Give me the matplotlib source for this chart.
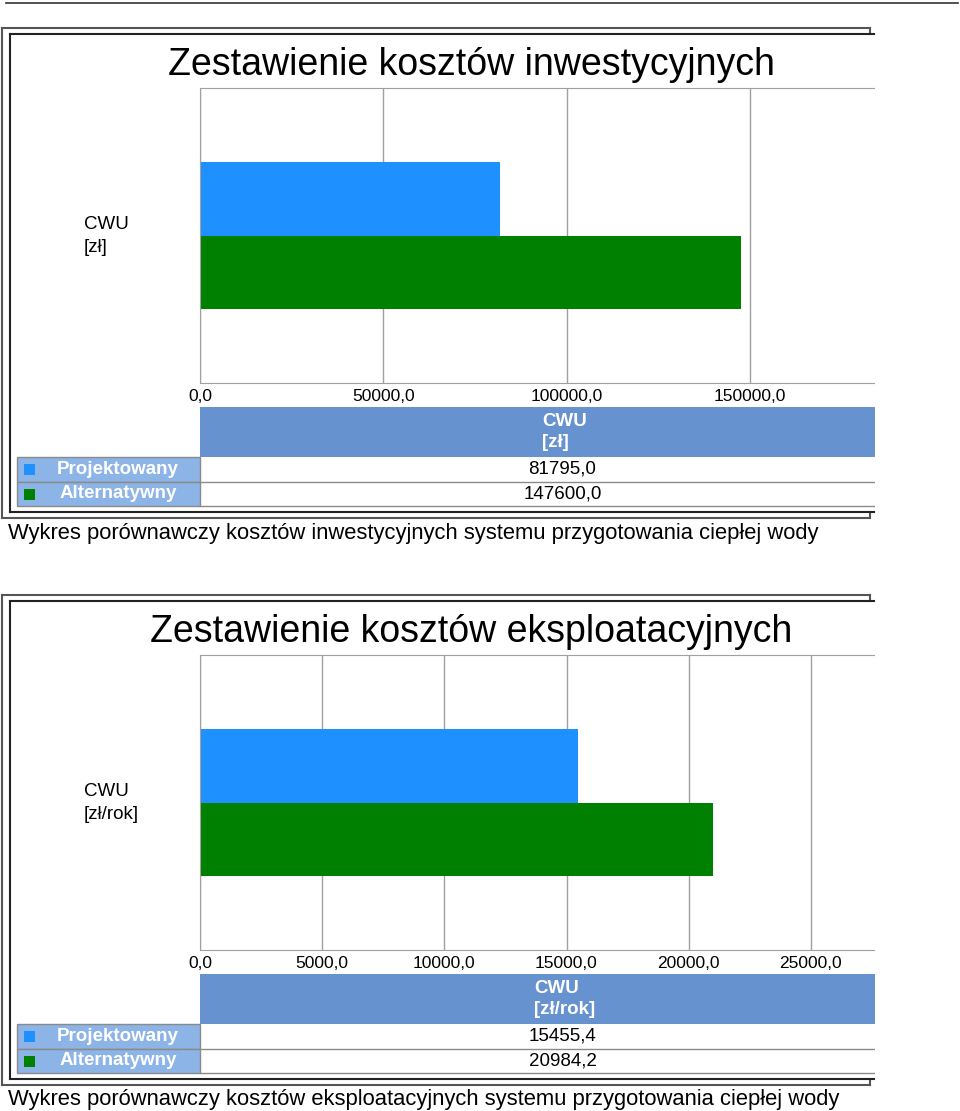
import matplotlib
matplotlib.use("Agg")
import matplotlib.pyplot as plt
from matplotlib.patches import Rectangle

plt.rcParams['font.family'] = ['Liberation Sans', 'DejaVu Sans']

# Data
series = ["Projektowany", "Alternatywny"]
series_colors = ["#1e90ff", "#008000"]
titles = ["Zestawienie kosztów inwestycyjnych", "Zestawienie kosztów eksploatacyjnych"]
categories = ["CWU\n[zł]", "CWU\n[zł/rok]"]
captions = ["Wykres porównawczy kosztów inwestycyjnych systemu przygotowania ciepłej wody",
            "Wykres porównawczy kosztów eksploatacyjnych systemu przygotowania ciepłej wody"]
inv_values = [81795.0, 147600.0]
exp_values = [15455.4, 20984.2]
# visible ticks; the axes run on to inv_max / exp_max, past the cropped edge
inv_ticks = [0, 50000, 100000, 150000]
exp_ticks = [0, 5000, 10000, 15000, 20000, 25000]
inv_max = 200000
exp_max = 30000

panel_values = [inv_values, exp_values]
panel_ticks = [inv_ticks, exp_ticks]
panel_max = [inv_max, exp_max]

header_color = "#6692d0"
label_color = "#8db4e6"
grid_color = "#a0a0a0"

W, H = 960, 1111


def fmt(v):
    return ("%.1f" % v).replace(".", ",")


fig = plt.figure(figsize=(W / 100, H / 100), dpi=100)
ov = fig.add_axes([0, 0, 1, 1], zorder=5)
ov.set_xlim(0, W)
ov.set_ylim(H, 0)
ov.axis("off")
ov.patch.set_alpha(0)

# line across the top of the page
ov.plot([6, 958], [3, 3], color="#333333", lw=1.2)

for p in range(2):
    off = 567 * p
    vals = panel_values[p]
    ticks = panel_ticks[p]

    # chart axes (full width goes past the visible crop)
    x0, x1 = 200, 933
    top, bot = 88 + off, 383 + off
    ax = fig.add_axes([x0 / W, 1 - bot / H, (x1 - x0) / W, (bot - top) / H], zorder=1)
    ax.patch.set_alpha(0)
    for i in range(len(series)):
        ax.barh(0.125 - 0.25 * i, vals[i], height=0.25, color=series_colors[i], zorder=2)
    ax.set_ylim(-0.5, 0.5)
    ax.set_xlim(0, panel_max[p])
    ax.set_xticks(ticks)
    ax.set_xticklabels([fmt(t) for t in ticks], fontsize=12.5)
    ax.set_yticks([])
    ax.tick_params(axis="x", length=0, pad=4)
    ax.grid(axis="x", color=grid_color, lw=1)
    ax.set_axisbelow(True)
    for s in ["top", "bottom", "left"]:
        ax.spines[s].set_color(grid_color)
    ax.spines["right"].set_visible(False)

    # title and category label
    ov.text(471, 65 + off, titles[p], ha="center", va="center", fontsize=27)
    ov.text(84, 236 + off, categories[p], ha="left", va="center", fontsize=13.5,
            linespacing=1.4)

    # data table
    ov.add_patch(Rectangle((x0, 407 + off), x1 - x0, 50, fc=header_color, ec="none", zorder=2))
    ov.text((x0 + x1) / 2 - 2, 432 + off, categories[p], ha="center", va="center",
            multialignment="left", color="white", fontweight="bold", fontsize=13.5,
            linespacing=1.35, zorder=3)
    rh = 24.5
    for i in range(len(series)):
        y0 = 457 + off + rh * i
        ov.add_patch(Rectangle((17, y0), x0 - 17, rh, fc=label_color, ec="#8a8a8a",
                               lw=1, zorder=2))
        ov.add_patch(Rectangle((24, y0 + 7), 11, 11, fc=series_colors[i], ec="none", zorder=3))
        ov.text(118, y0 + rh / 2, series[i], ha="center", va="center", color="white",
                fontweight="bold", fontsize=13.5, zorder=3)
        ov.plot([x0, x1], [y0 + rh, y0 + rh], color="#8a8a8a", lw=1, zorder=2)
        ov.text((x0 + x1) / 2 - 4, y0 + rh / 2, fmt(vals[i]), ha="center", va="center",
                fontsize=13.5, zorder=3)

    # crop mask on the right
    ov.add_patch(Rectangle((875, 35 + off), 90, 476, fc="white", ec="none", zorder=10))

    # frames
    oc, ic = "#555555", "#222222"
    ov.plot([2, 870], [28 + off, 28 + off], color=oc, lw=1.5, zorder=11)
    ov.plot([2, 870], [518 + off, 518 + off], color=oc, lw=1.5, zorder=11)
    ov.plot([2, 2], [28 + off, 518 + off], color=oc, lw=1.5, zorder=11)
    ov.plot([870, 870], [28 + off, 34 + off], color=oc, lw=1.5, zorder=11)
    ov.plot([870, 870], [512 + off, 518 + off], color=oc, lw=1.5, zorder=11)
    ov.plot([10, 874], [34 + off, 34 + off], color=ic, lw=1.5, zorder=11)
    ov.plot([10, 874], [512 + off, 512 + off], color=ic, lw=1.5, zorder=11)
    ov.plot([10, 10], [34 + off, 512 + off], color=ic, lw=1.5, zorder=11)

    # caption
    ov.text(8, 533 + off, captions[p], ha="left", va="center", fontsize=15.8, zorder=12)

fig.savefig("out.png", dpi=100)
